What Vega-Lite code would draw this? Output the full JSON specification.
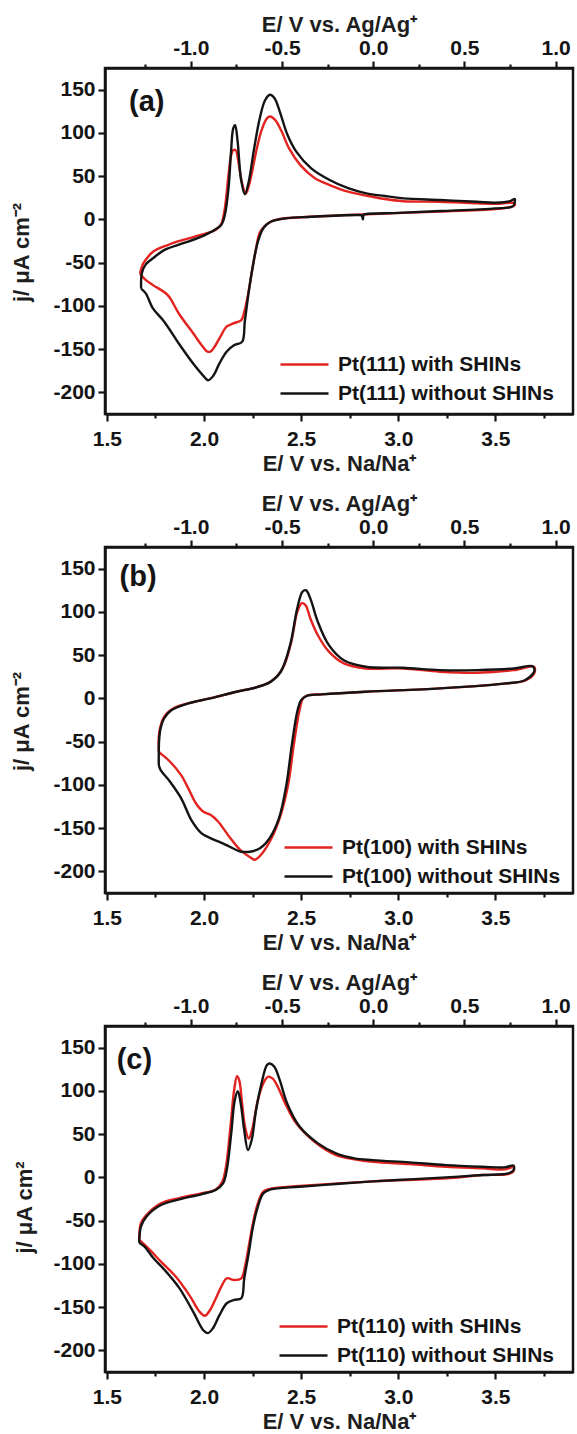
{
  "$schema": "https://vega.github.io/schema/vega-lite/v6.json",
  "background": "white",
  "padding": {"left": 8, "top": 11, "right": 0, "bottom": 0},
  "columns": 1,
  "align": "none",
  "spacing": 14,
  "datasets": {
    "ag": [{"Eag": -1.0}, {"Eag": 1.0}],
    "tagA": [{"label": "(a)", "E": 1.614, "j": 136}],
    "tagB": [{"label": "(b)", "E": 1.565, "j": 140}],
    "tagC": [{"label": "(c)", "E": 1.55, "j": 136}],
    "cvA": [
      {"series": "Pt(111) with SHINs", "E": 1.67, "j": -62.5},
      {"series": "Pt(111) with SHINs", "E": 1.685, "j": -52},
      {"series": "Pt(111) with SHINs", "E": 1.699, "j": -47},
      {"series": "Pt(111) with SHINs", "E": 1.737, "j": -37.4},
      {"series": "Pt(111) with SHINs", "E": 1.813, "j": -29.7},
      {"series": "Pt(111) with SHINs", "E": 1.889, "j": -24},
      {"series": "Pt(111) with SHINs", "E": 1.983, "j": -18},
      {"series": "Pt(111) with SHINs", "E": 2.059, "j": -12.3},
      {"series": "Pt(111) with SHINs", "E": 2.088, "j": -5.8},
      {"series": "Pt(111) with SHINs", "E": 2.107, "j": 12.7},
      {"series": "Pt(111) with SHINs", "E": 2.126, "j": 51},
      {"series": "Pt(111) with SHINs", "E": 2.14, "j": 74.5},
      {"series": "Pt(111) with SHINs", "E": 2.15, "j": 80},
      {"series": "Pt(111) with SHINs", "E": 2.163, "j": 80},
      {"series": "Pt(111) with SHINs", "E": 2.177, "j": 66.7},
      {"series": "Pt(111) with SHINs", "E": 2.196, "j": 41.7},
      {"series": "Pt(111) with SHINs", "E": 2.215, "j": 30},
      {"series": "Pt(111) with SHINs", "E": 2.234, "j": 41.7},
      {"series": "Pt(111) with SHINs", "E": 2.268, "j": 78},
      {"series": "Pt(111) with SHINs", "E": 2.296, "j": 103},
      {"series": "Pt(111) with SHINs", "E": 2.325, "j": 117},
      {"series": "Pt(111) with SHINs", "E": 2.34, "j": 119},
      {"series": "Pt(111) with SHINs", "E": 2.366, "j": 115},
      {"series": "Pt(111) with SHINs", "E": 2.4, "j": 101.5},
      {"series": "Pt(111) with SHINs", "E": 2.438, "j": 82},
      {"series": "Pt(111) with SHINs", "E": 2.495, "j": 63},
      {"series": "Pt(111) with SHINs", "E": 2.571, "j": 47.5},
      {"series": "Pt(111) with SHINs", "E": 2.647, "j": 39.7},
      {"series": "Pt(111) with SHINs", "E": 2.742, "j": 32},
      {"series": "Pt(111) with SHINs", "E": 2.836, "j": 27.4},
      {"series": "Pt(111) with SHINs", "E": 2.93, "j": 23.5},
      {"series": "Pt(111) with SHINs", "E": 3.026, "j": 21},
      {"series": "Pt(111) with SHINs", "E": 3.216, "j": 20.4},
      {"series": "Pt(111) with SHINs", "E": 3.405, "j": 18.5},
      {"series": "Pt(111) with SHINs", "E": 3.52, "j": 18},
      {"series": "Pt(111) with SHINs", "E": 3.576, "j": 19.3},
      {"series": "Pt(111) with SHINs", "E": 3.6, "j": 18.5},
      {"series": "Pt(111) with SHINs", "E": 3.597, "j": 15.8},
      {"series": "Pt(111) with SHINs", "E": 3.555, "j": 13.5},
      {"series": "Pt(111) with SHINs", "E": 3.5, "j": 12},
      {"series": "Pt(111) with SHINs", "E": 3.216, "j": 9},
      {"series": "Pt(111) with SHINs", "E": 2.836, "j": 6},
      {"series": "Pt(111) with SHINs", "E": 2.55, "j": 3},
      {"series": "Pt(111) with SHINs", "E": 2.39, "j": 0.4},
      {"series": "Pt(111) with SHINs", "E": 2.343, "j": -2.7},
      {"series": "Pt(111) with SHINs", "E": 2.29, "j": -14},
      {"series": "Pt(111) with SHINs", "E": 2.268, "j": -33.6},
      {"series": "Pt(111) with SHINs", "E": 2.249, "j": -57},
      {"series": "Pt(111) with SHINs", "E": 2.226, "j": -87.6},
      {"series": "Pt(111) with SHINs", "E": 2.207, "j": -107},
      {"series": "Pt(111) with SHINs", "E": 2.192, "j": -116.5},
      {"series": "Pt(111) with SHINs", "E": 2.154, "j": -120},
      {"series": "Pt(111) with SHINs", "E": 2.116, "j": -124},
      {"series": "Pt(111) with SHINs", "E": 2.088, "j": -134},
      {"series": "Pt(111) with SHINs", "E": 2.059, "j": -145.5},
      {"series": "Pt(111) with SHINs", "E": 2.036, "j": -152.4},
      {"series": "Pt(111) with SHINs", "E": 2.018, "j": -153},
      {"series": "Pt(111) with SHINs", "E": 1.993, "j": -147},
      {"series": "Pt(111) with SHINs", "E": 1.945, "j": -132},
      {"series": "Pt(111) with SHINs", "E": 1.87, "j": -108.8},
      {"series": "Pt(111) with SHINs", "E": 1.813, "j": -87.6},
      {"series": "Pt(111) with SHINs", "E": 1.737, "j": -76},
      {"series": "Pt(111) with SHINs", "E": 1.699, "j": -70},
      {"series": "Pt(111) with SHINs", "E": 1.67, "j": -62.5},
      {"series": "Pt(111) without SHINs", "E": 1.676, "j": -80},
      {"series": "Pt(111) without SHINs", "E": 1.68, "j": -62},
      {"series": "Pt(111) without SHINs", "E": 1.7, "j": -52},
      {"series": "Pt(111) without SHINs", "E": 1.737, "j": -45},
      {"series": "Pt(111) without SHINs", "E": 1.794, "j": -35.5},
      {"series": "Pt(111) without SHINs", "E": 1.889, "j": -27.8},
      {"series": "Pt(111) without SHINs", "E": 1.964, "j": -22},
      {"series": "Pt(111) without SHINs", "E": 2.04, "j": -14},
      {"series": "Pt(111) without SHINs", "E": 2.088, "j": -6.6},
      {"series": "Pt(111) without SHINs", "E": 2.107, "j": 5},
      {"series": "Pt(111) without SHINs", "E": 2.126, "j": 36},
      {"series": "Pt(111) without SHINs", "E": 2.139, "j": 78},
      {"series": "Pt(111) without SHINs", "E": 2.15, "j": 105},
      {"series": "Pt(111) without SHINs", "E": 2.16, "j": 109},
      {"series": "Pt(111) without SHINs", "E": 2.173, "j": 90},
      {"series": "Pt(111) without SHINs", "E": 2.19, "j": 47},
      {"series": "Pt(111) without SHINs", "E": 2.21, "j": 29},
      {"series": "Pt(111) without SHINs", "E": 2.23, "j": 43.6},
      {"series": "Pt(111) without SHINs", "E": 2.258, "j": 82},
      {"series": "Pt(111) without SHINs", "E": 2.287, "j": 117},
      {"series": "Pt(111) without SHINs", "E": 2.315, "j": 138},
      {"series": "Pt(111) without SHINs", "E": 2.34, "j": 144},
      {"series": "Pt(111) without SHINs", "E": 2.363, "j": 140},
      {"series": "Pt(111) without SHINs", "E": 2.39, "j": 124.6},
      {"series": "Pt(111) without SHINs", "E": 2.43, "j": 97.6},
      {"series": "Pt(111) without SHINs", "E": 2.476, "j": 78},
      {"series": "Pt(111) without SHINs", "E": 2.552, "j": 59},
      {"series": "Pt(111) without SHINs", "E": 2.647, "j": 45.5},
      {"series": "Pt(111) without SHINs", "E": 2.742, "j": 36},
      {"series": "Pt(111) without SHINs", "E": 2.836, "j": 30},
      {"series": "Pt(111) without SHINs", "E": 2.93, "j": 27},
      {"series": "Pt(111) without SHINs", "E": 3.026, "j": 24.3},
      {"series": "Pt(111) without SHINs", "E": 3.216, "j": 22.4},
      {"series": "Pt(111) without SHINs", "E": 3.405, "j": 20.4},
      {"series": "Pt(111) without SHINs", "E": 3.5, "j": 19.3},
      {"series": "Pt(111) without SHINs", "E": 3.576, "j": 21},
      {"series": "Pt(111) without SHINs", "E": 3.6, "j": 23.5},
      {"series": "Pt(111) without SHINs", "E": 3.6, "j": 20},
      {"series": "Pt(111) without SHINs", "E": 3.59, "j": 15},
      {"series": "Pt(111) without SHINs", "E": 3.5, "j": 12.7},
      {"series": "Pt(111) without SHINs", "E": 3.216, "j": 9.6},
      {"series": "Pt(111) without SHINs", "E": 3.0, "j": 7.5},
      {"series": "Pt(111) without SHINs", "E": 2.836, "j": 6.2},
      {"series": "Pt(111) without SHINs", "E": 2.822, "j": 5.5},
      {"series": "Pt(111) without SHINs", "E": 2.818, "j": 0},
      {"series": "Pt(111) without SHINs", "E": 2.812, "j": 4.5},
      {"series": "Pt(111) without SHINs", "E": 2.78, "j": 5},
      {"series": "Pt(111) without SHINs", "E": 2.55, "j": 3},
      {"series": "Pt(111) without SHINs", "E": 2.42, "j": 1.2},
      {"series": "Pt(111) without SHINs", "E": 2.343, "j": -2.7},
      {"series": "Pt(111) without SHINs", "E": 2.306, "j": -10},
      {"series": "Pt(111) without SHINs", "E": 2.277, "j": -26},
      {"series": "Pt(111) without SHINs", "E": 2.249, "j": -57},
      {"series": "Pt(111) without SHINs", "E": 2.23, "j": -84},
      {"series": "Pt(111) without SHINs", "E": 2.21, "j": -118},
      {"series": "Pt(111) without SHINs", "E": 2.196, "j": -141.6},
      {"series": "Pt(111) without SHINs", "E": 2.154, "j": -145.5},
      {"series": "Pt(111) without SHINs", "E": 2.116, "j": -153},
      {"series": "Pt(111) without SHINs", "E": 2.078, "j": -167},
      {"series": "Pt(111) without SHINs", "E": 2.05, "j": -180},
      {"series": "Pt(111) without SHINs", "E": 2.021, "j": -186},
      {"series": "Pt(111) without SHINs", "E": 1.993, "j": -180},
      {"series": "Pt(111) without SHINs", "E": 1.945, "j": -167},
      {"series": "Pt(111) without SHINs", "E": 1.87, "j": -143.5},
      {"series": "Pt(111) without SHINs", "E": 1.794, "j": -118},
      {"series": "Pt(111) without SHINs", "E": 1.737, "j": -103},
      {"series": "Pt(111) without SHINs", "E": 1.7, "j": -85.6},
      {"series": "Pt(111) without SHINs", "E": 1.676, "j": -80}
    ],
    "cvB": [
      {"series": "Pt(100) with SHINs", "E": 1.767, "j": -61.5},
      {"series": "Pt(100) with SHINs", "E": 1.77, "j": -38.5},
      {"series": "Pt(100) with SHINs", "E": 1.795, "j": -21},
      {"series": "Pt(100) with SHINs", "E": 1.843, "j": -11.5},
      {"series": "Pt(100) with SHINs", "E": 1.938, "j": -4.6},
      {"series": "Pt(100) with SHINs", "E": 2.052, "j": 1.2},
      {"series": "Pt(100) with SHINs", "E": 2.167, "j": 7.7},
      {"series": "Pt(100) with SHINs", "E": 2.28, "j": 13.5},
      {"series": "Pt(100) with SHINs", "E": 2.348, "j": 20},
      {"series": "Pt(100) with SHINs", "E": 2.405, "j": 34.6},
      {"series": "Pt(100) with SHINs", "E": 2.449, "j": 65},
      {"series": "Pt(100) with SHINs", "E": 2.48, "j": 100},
      {"series": "Pt(100) with SHINs", "E": 2.504, "j": 110},
      {"series": "Pt(100) with SHINs", "E": 2.523, "j": 107.7},
      {"series": "Pt(100) with SHINs", "E": 2.548, "j": 92},
      {"series": "Pt(100) with SHINs", "E": 2.586, "j": 73},
      {"series": "Pt(100) with SHINs", "E": 2.643, "j": 54},
      {"series": "Pt(100) with SHINs", "E": 2.72, "j": 40.4},
      {"series": "Pt(100) with SHINs", "E": 2.833, "j": 34.6},
      {"series": "Pt(100) with SHINs", "E": 3.024, "j": 34.6},
      {"series": "Pt(100) with SHINs", "E": 3.214, "j": 30.8},
      {"series": "Pt(100) with SHINs", "E": 3.405, "j": 29.6},
      {"series": "Pt(100) with SHINs", "E": 3.595, "j": 32.7},
      {"series": "Pt(100) with SHINs", "E": 3.7, "j": 36.5},
      {"series": "Pt(100) with SHINs", "E": 3.7, "j": 28.8},
      {"series": "Pt(100) with SHINs", "E": 3.652, "j": 20.4},
      {"series": "Pt(100) with SHINs", "E": 3.557, "j": 17.3},
      {"series": "Pt(100) with SHINs", "E": 3.214, "j": 11.5},
      {"series": "Pt(100) with SHINs", "E": 2.833, "j": 7.7},
      {"series": "Pt(100) with SHINs", "E": 2.605, "j": 4.6},
      {"series": "Pt(100) with SHINs", "E": 2.538, "j": 3.8},
      {"series": "Pt(100) with SHINs", "E": 2.51, "j": 0},
      {"series": "Pt(100) with SHINs", "E": 2.49, "j": -15.4},
      {"series": "Pt(100) with SHINs", "E": 2.462, "j": -54},
      {"series": "Pt(100) with SHINs", "E": 2.433, "j": -100},
      {"series": "Pt(100) with SHINs", "E": 2.395, "j": -134.6},
      {"series": "Pt(100) with SHINs", "E": 2.348, "j": -161.5},
      {"series": "Pt(100) with SHINs", "E": 2.3, "j": -179},
      {"series": "Pt(100) with SHINs", "E": 2.262, "j": -186.5},
      {"series": "Pt(100) with SHINs", "E": 2.243, "j": -184.6},
      {"series": "Pt(100) with SHINs", "E": 2.186, "j": -175},
      {"series": "Pt(100) with SHINs", "E": 2.129, "j": -159.6},
      {"series": "Pt(100) with SHINs", "E": 2.071, "j": -142},
      {"series": "Pt(100) with SHINs", "E": 2.033, "j": -134.6},
      {"series": "Pt(100) with SHINs", "E": 1.995, "j": -130.8},
      {"series": "Pt(100) with SHINs", "E": 1.957, "j": -121},
      {"series": "Pt(100) with SHINs", "E": 1.919, "j": -104},
      {"series": "Pt(100) with SHINs", "E": 1.881, "j": -88.5},
      {"series": "Pt(100) with SHINs", "E": 1.824, "j": -73},
      {"series": "Pt(100) with SHINs", "E": 1.776, "j": -63.5},
      {"series": "Pt(100) with SHINs", "E": 1.767, "j": -61.5},
      {"series": "Pt(100) without SHINs", "E": 1.767, "j": -77},
      {"series": "Pt(100) without SHINs", "E": 1.773, "j": -38.5},
      {"series": "Pt(100) without SHINs", "E": 1.795, "j": -23},
      {"series": "Pt(100) without SHINs", "E": 1.833, "j": -13.5},
      {"series": "Pt(100) without SHINs", "E": 1.919, "j": -5.8},
      {"series": "Pt(100) without SHINs", "E": 2.033, "j": 0},
      {"series": "Pt(100) without SHINs", "E": 2.167, "j": 7.7},
      {"series": "Pt(100) without SHINs", "E": 2.262, "j": 12.3},
      {"series": "Pt(100) without SHINs", "E": 2.338, "j": 18.5},
      {"series": "Pt(100) without SHINs", "E": 2.395, "j": 30.8},
      {"series": "Pt(100) without SHINs", "E": 2.443, "j": 61.5},
      {"series": "Pt(100) without SHINs", "E": 2.48, "j": 104},
      {"series": "Pt(100) without SHINs", "E": 2.506, "j": 123},
      {"series": "Pt(100) without SHINs", "E": 2.525, "j": 125},
      {"series": "Pt(100) without SHINs", "E": 2.548, "j": 115},
      {"series": "Pt(100) without SHINs", "E": 2.586, "j": 88.5},
      {"series": "Pt(100) without SHINs", "E": 2.643, "j": 61.5},
      {"series": "Pt(100) without SHINs", "E": 2.72, "j": 44},
      {"series": "Pt(100) without SHINs", "E": 2.833, "j": 36.5},
      {"series": "Pt(100) without SHINs", "E": 3.024, "j": 35.4},
      {"series": "Pt(100) without SHINs", "E": 3.214, "j": 32.7},
      {"series": "Pt(100) without SHINs", "E": 3.405, "j": 32.7},
      {"series": "Pt(100) without SHINs", "E": 3.595, "j": 34.6},
      {"series": "Pt(100) without SHINs", "E": 3.69, "j": 37.3},
      {"series": "Pt(100) without SHINs", "E": 3.7, "j": 34.6},
      {"series": "Pt(100) without SHINs", "E": 3.7, "j": 30.8},
      {"series": "Pt(100) without SHINs", "E": 3.652, "j": 21},
      {"series": "Pt(100) without SHINs", "E": 3.557, "j": 17.3},
      {"series": "Pt(100) without SHINs", "E": 3.214, "j": 11.5},
      {"series": "Pt(100) without SHINs", "E": 2.833, "j": 7.7},
      {"series": "Pt(100) without SHINs", "E": 2.605, "j": 4.6},
      {"series": "Pt(100) without SHINs", "E": 2.529, "j": 3},
      {"series": "Pt(100) without SHINs", "E": 2.5, "j": -2},
      {"series": "Pt(100) without SHINs", "E": 2.48, "j": -15.4},
      {"series": "Pt(100) without SHINs", "E": 2.452, "j": -54},
      {"series": "Pt(100) without SHINs", "E": 2.424, "j": -100},
      {"series": "Pt(100) without SHINs", "E": 2.386, "j": -138.5},
      {"series": "Pt(100) without SHINs", "E": 2.338, "j": -161.5},
      {"series": "Pt(100) without SHINs", "E": 2.29, "j": -173},
      {"series": "Pt(100) without SHINs", "E": 2.243, "j": -177},
      {"series": "Pt(100) without SHINs", "E": 2.186, "j": -177},
      {"series": "Pt(100) without SHINs", "E": 2.11, "j": -169},
      {"series": "Pt(100) without SHINs", "E": 2.033, "j": -161.5},
      {"series": "Pt(100) without SHINs", "E": 1.986, "j": -155.8},
      {"series": "Pt(100) without SHINs", "E": 1.938, "j": -142},
      {"series": "Pt(100) without SHINs", "E": 1.881, "j": -115},
      {"series": "Pt(100) without SHINs", "E": 1.824, "j": -96},
      {"series": "Pt(100) without SHINs", "E": 1.776, "j": -82.7},
      {"series": "Pt(100) without SHINs", "E": 1.767, "j": -77}
    ],
    "cvC": [
      {"series": "Pt(110) with SHINs", "E": 1.666, "j": -72.4},
      {"series": "Pt(110) with SHINs", "E": 1.675, "j": -53},
      {"series": "Pt(110) with SHINs", "E": 1.703, "j": -43.5},
      {"series": "Pt(110) with SHINs", "E": 1.778, "j": -30},
      {"series": "Pt(110) with SHINs", "E": 1.873, "j": -23.9},
      {"series": "Pt(110) with SHINs", "E": 1.985, "j": -18.5},
      {"series": "Pt(110) with SHINs", "E": 2.06, "j": -13.9},
      {"series": "Pt(110) with SHINs", "E": 2.094, "j": -5},
      {"series": "Pt(110) with SHINs", "E": 2.113, "j": 12.3},
      {"series": "Pt(110) with SHINs", "E": 2.136, "j": 58.5},
      {"series": "Pt(110) with SHINs", "E": 2.155, "j": 101},
      {"series": "Pt(110) with SHINs", "E": 2.17, "j": 117},
      {"series": "Pt(110) with SHINs", "E": 2.181, "j": 112.4},
      {"series": "Pt(110) with SHINs", "E": 2.196, "j": 85.5},
      {"series": "Pt(110) with SHINs", "E": 2.211, "j": 58.5},
      {"series": "Pt(110) with SHINs", "E": 2.23, "j": 45},
      {"series": "Pt(110) with SHINs", "E": 2.249, "j": 56.6},
      {"series": "Pt(110) with SHINs", "E": 2.277, "j": 89.3},
      {"series": "Pt(110) with SHINs", "E": 2.305, "j": 108.6},
      {"series": "Pt(110) with SHINs", "E": 2.328, "j": 116.3},
      {"series": "Pt(110) with SHINs", "E": 2.352, "j": 114.4},
      {"series": "Pt(110) with SHINs", "E": 2.38, "j": 104.7},
      {"series": "Pt(110) with SHINs", "E": 2.418, "j": 85.5},
      {"series": "Pt(110) with SHINs", "E": 2.475, "j": 62.4},
      {"series": "Pt(110) with SHINs", "E": 2.569, "j": 41.2},
      {"series": "Pt(110) with SHINs", "E": 2.68, "j": 25.8},
      {"series": "Pt(110) with SHINs", "E": 2.775, "j": 21},
      {"series": "Pt(110) with SHINs", "E": 2.87, "j": 18},
      {"series": "Pt(110) with SHINs", "E": 3.058, "j": 15.4},
      {"series": "Pt(110) with SHINs", "E": 3.246, "j": 12.3},
      {"series": "Pt(110) with SHINs", "E": 3.434, "j": 10.4},
      {"series": "Pt(110) with SHINs", "E": 3.547, "j": 9.2},
      {"series": "Pt(110) with SHINs", "E": 3.594, "j": 11.5},
      {"series": "Pt(110) with SHINs", "E": 3.594, "j": 7.3},
      {"series": "Pt(110) with SHINs", "E": 3.566, "j": 3.8},
      {"series": "Pt(110) with SHINs", "E": 3.434, "j": 2.7},
      {"series": "Pt(110) with SHINs", "E": 3.246, "j": -1.2},
      {"series": "Pt(110) with SHINs", "E": 2.87, "j": -4.6},
      {"series": "Pt(110) with SHINs", "E": 2.493, "j": -10},
      {"series": "Pt(110) with SHINs", "E": 2.343, "j": -13},
      {"series": "Pt(110) with SHINs", "E": 2.305, "j": -16.5},
      {"series": "Pt(110) with SHINs", "E": 2.277, "j": -30},
      {"series": "Pt(110) with SHINs", "E": 2.252, "j": -53},
      {"series": "Pt(110) with SHINs", "E": 2.23, "j": -80},
      {"series": "Pt(110) with SHINs", "E": 2.211, "j": -103},
      {"series": "Pt(110) with SHINs", "E": 2.192, "j": -116.7},
      {"series": "Pt(110) with SHINs", "E": 2.155, "j": -118.6},
      {"series": "Pt(110) with SHINs", "E": 2.117, "j": -116.7},
      {"series": "Pt(110) with SHINs", "E": 2.089, "j": -126.3},
      {"series": "Pt(110) with SHINs", "E": 2.061, "j": -139.8},
      {"series": "Pt(110) with SHINs", "E": 2.032, "j": -153},
      {"series": "Pt(110) with SHINs", "E": 2.004, "j": -160},
      {"series": "Pt(110) with SHINs", "E": 1.976, "j": -155},
      {"series": "Pt(110) with SHINs", "E": 1.929, "j": -137.8},
      {"series": "Pt(110) with SHINs", "E": 1.854, "j": -114.7},
      {"series": "Pt(110) with SHINs", "E": 1.778, "j": -97.4},
      {"series": "Pt(110) with SHINs", "E": 1.722, "j": -84},
      {"series": "Pt(110) with SHINs", "E": 1.685, "j": -76},
      {"series": "Pt(110) with SHINs", "E": 1.666, "j": -72.4},
      {"series": "Pt(110) without SHINs", "E": 1.666, "j": -75.5},
      {"series": "Pt(110) without SHINs", "E": 1.675, "j": -57},
      {"series": "Pt(110) without SHINs", "E": 1.703, "j": -45.4},
      {"series": "Pt(110) without SHINs", "E": 1.778, "j": -32},
      {"series": "Pt(110) without SHINs", "E": 1.873, "j": -25.4},
      {"series": "Pt(110) without SHINs", "E": 1.985, "j": -19.6},
      {"series": "Pt(110) without SHINs", "E": 2.06, "j": -14.6},
      {"series": "Pt(110) without SHINs", "E": 2.098, "j": -7},
      {"series": "Pt(110) without SHINs", "E": 2.117, "j": 8.5},
      {"series": "Pt(110) without SHINs", "E": 2.14, "j": 50.8},
      {"series": "Pt(110) without SHINs", "E": 2.158, "j": 89},
      {"series": "Pt(110) without SHINs", "E": 2.174, "j": 99.7},
      {"series": "Pt(110) without SHINs", "E": 2.189, "j": 85.5},
      {"series": "Pt(110) without SHINs", "E": 2.207, "j": 54.7},
      {"series": "Pt(110) without SHINs", "E": 2.226, "j": 31.6},
      {"series": "Pt(110) without SHINs", "E": 2.245, "j": 43},
      {"series": "Pt(110) without SHINs", "E": 2.268, "j": 77.8},
      {"series": "Pt(110) without SHINs", "E": 2.296, "j": 108.6},
      {"series": "Pt(110) without SHINs", "E": 2.324, "j": 129.8},
      {"series": "Pt(110) without SHINs", "E": 2.339, "j": 131.7},
      {"series": "Pt(110) without SHINs", "E": 2.362, "j": 127.8},
      {"series": "Pt(110) without SHINs", "E": 2.39, "j": 112.4},
      {"series": "Pt(110) without SHINs", "E": 2.428, "j": 85.5},
      {"series": "Pt(110) without SHINs", "E": 2.493, "j": 58.5},
      {"series": "Pt(110) without SHINs", "E": 2.587, "j": 39.3},
      {"series": "Pt(110) without SHINs", "E": 2.68, "j": 27.7},
      {"series": "Pt(110) without SHINs", "E": 2.775, "j": 22},
      {"series": "Pt(110) without SHINs", "E": 2.87, "j": 20},
      {"series": "Pt(110) without SHINs", "E": 3.058, "j": 17.3},
      {"series": "Pt(110) without SHINs", "E": 3.246, "j": 14.2},
      {"series": "Pt(110) without SHINs", "E": 3.434, "j": 12.3},
      {"series": "Pt(110) without SHINs", "E": 3.547, "j": 11.5},
      {"series": "Pt(110) without SHINs", "E": 3.594, "j": 13.5},
      {"series": "Pt(110) without SHINs", "E": 3.594, "j": 8.5},
      {"series": "Pt(110) without SHINs", "E": 3.566, "j": 4.6},
      {"series": "Pt(110) without SHINs", "E": 3.434, "j": 2.7},
      {"series": "Pt(110) without SHINs", "E": 3.246, "j": 0},
      {"series": "Pt(110) without SHINs", "E": 3.058, "j": -2.3},
      {"series": "Pt(110) without SHINs", "E": 2.87, "j": -4.6},
      {"series": "Pt(110) without SHINs", "E": 2.68, "j": -7.7},
      {"series": "Pt(110) without SHINs", "E": 2.493, "j": -10.8},
      {"series": "Pt(110) without SHINs", "E": 2.343, "j": -13.9},
      {"series": "Pt(110) without SHINs", "E": 2.305, "j": -18.5},
      {"series": "Pt(110) without SHINs", "E": 2.277, "j": -34},
      {"series": "Pt(110) without SHINs", "E": 2.252, "j": -57},
      {"series": "Pt(110) without SHINs", "E": 2.23, "j": -87.8},
      {"series": "Pt(110) without SHINs", "E": 2.207, "j": -116.7},
      {"series": "Pt(110) without SHINs", "E": 2.192, "j": -139.8},
      {"series": "Pt(110) without SHINs", "E": 2.155, "j": -141.7},
      {"series": "Pt(110) without SHINs", "E": 2.117, "j": -145.5},
      {"series": "Pt(110) without SHINs", "E": 2.08, "j": -159},
      {"series": "Pt(110) without SHINs", "E": 2.046, "j": -174.4},
      {"series": "Pt(110) without SHINs", "E": 2.02, "j": -180},
      {"series": "Pt(110) without SHINs", "E": 1.995, "j": -176.4},
      {"series": "Pt(110) without SHINs", "E": 1.948, "j": -157},
      {"series": "Pt(110) without SHINs", "E": 1.873, "j": -128},
      {"series": "Pt(110) without SHINs", "E": 1.797, "j": -107},
      {"series": "Pt(110) without SHINs", "E": 1.74, "j": -93.6},
      {"series": "Pt(110) without SHINs", "E": 1.694, "j": -80},
      {"series": "Pt(110) without SHINs", "E": 1.666, "j": -75.5}
    ]
  },
  "concat": [
    {
      "width": 468, "height": 346,
      "layer": [
        {
          "layer": [
            {
              "data": {"name": "cvA"},
              "mark": {"type": "line", "strokeWidth": 2.4, "clip": true, "interpolate": "catmull-rom"},
              "encoding": {
                "x": {"field": "E", "type": "quantitative", "scale": {"domain": [1.49, 3.9], "nice": false, "zero": false},
                  "axis": {"orient": "bottom", "title": "E/ V vs. Na/Na⁺", "labelPadding": 7, "titlePadding": 4, "values": [1.5, 1.75, 2, 2.25, 2.5, 2.75, 3, 3.25, 3.5, 3.75],
                    "labelExpr": "abs(round(datum.value*4)) % 2 == 0 ? format(datum.value, '.1f') : ''",
                    "tickSize": {"condition": {"test": "abs(round(datum.value*4)) % 2 == 0", "value": 7}, "value": 4}}},
                "y": {"field": "j", "type": "quantitative", "scale": {"domain": [-225, 175], "nice": false, "zero": false},
                  "axis": {"title": "j/ μA cm⁻²", "titleX": -72, "titleY": 184, "values": [-200, -175, -150, -125, -100, -75, -50, -25, 0, 25, 50, 75, 100, 125, 150],
                    "labelExpr": "datum.value % 50 == 0 ? (datum.value < 0 ? '-' : '') + abs(datum.value) : ''",
                    "tickSize": {"condition": {"test": "datum.value % 50 == 0", "value": 7}, "value": 4}}},
                "color": {"field": "series", "type": "nominal",
                  "scale": {"domain": ["Pt(111) with SHINs", "Pt(111) without SHINs"], "range": ["#e3231f", "#141414"]},
                  "legend": {"orient": "none", "legendX": 188, "legendY": 285, "title": null}},
                "order": {"value": null}
              }
            },
            {
              "data": {"name": "tagA"},
              "mark": {"type": "text", "align": "left", "baseline": "middle", "font": "Liberation Sans", "fontSize": 29, "fontWeight": "bold", "color": "#141414"},
              "encoding": {
                "x": {"field": "E", "type": "quantitative"},
                "y": {"field": "j", "type": "quantitative"},
                "text": {"field": "label"}
              }
            }
          ]
        },
        {
          "data": {"name": "ag"},
          "mark": {"type": "point", "opacity": 0},
          "encoding": {
            "x": {"field": "Eag", "type": "quantitative", "scale": {"domain": [-1.47, 1.095], "nice": false, "zero": false},
              "axis": {"orient": "top", "title": "E/ V vs. Ag/Ag⁺", "titlePadding": 1, "values": [-1.25, -1, -0.75, -0.5, -0.25, 0, 0.25, 0.5, 0.75, 1],
                "labelExpr": "abs(round(datum.value*4)) % 2 == 0 ? (datum.value < 0 ? '-' : '') + format(abs(datum.value), '.1f') : ''",
                "tickSize": {"condition": {"test": "abs(round(datum.value*4)) % 2 == 0", "value": 7}, "value": 4}}}
          }
        }
      ],
      "resolve": {"scale": {"x": "independent"}, "axis": {"x": "independent"}}
    },
    {
      "width": 468, "height": 346,
      "layer": [
        {
          "layer": [
            {
              "data": {"name": "cvB"},
              "mark": {"type": "line", "strokeWidth": 2.4, "clip": true, "interpolate": "catmull-rom"},
              "encoding": {
                "x": {"field": "E", "type": "quantitative", "scale": {"domain": [1.49, 3.9], "nice": false, "zero": false},
                  "axis": {"orient": "bottom", "title": "E/ V vs. Na/Na⁺", "labelPadding": 7, "titlePadding": 4, "values": [1.5, 1.75, 2, 2.25, 2.5, 2.75, 3, 3.25, 3.5, 3.75],
                    "labelExpr": "abs(round(datum.value*4)) % 2 == 0 ? format(datum.value, '.1f') : ''",
                    "tickSize": {"condition": {"test": "abs(round(datum.value*4)) % 2 == 0", "value": 7}, "value": 4}}},
                "y": {"field": "j", "type": "quantitative", "scale": {"domain": [-225, 175], "nice": false, "zero": false},
                  "axis": {"title": "j/ μA cm⁻²", "titleX": -72, "titleY": 174, "values": [-200, -175, -150, -125, -100, -75, -50, -25, 0, 25, 50, 75, 100, 125, 150],
                    "labelExpr": "datum.value % 50 == 0 ? (datum.value < 0 ? '-' : '') + abs(datum.value) : ''",
                    "tickSize": {"condition": {"test": "datum.value % 50 == 0", "value": 7}, "value": 4}}},
                "color": {"field": "series", "type": "nominal",
                  "scale": {"domain": ["Pt(100) with SHINs", "Pt(100) without SHINs"], "range": ["#e3231f", "#141414"]},
                  "legend": {"orient": "none", "legendX": 192, "legendY": 289, "title": null}},
                "order": {"value": null}
              }
            },
            {
              "data": {"name": "tagB"},
              "mark": {"type": "text", "align": "left", "baseline": "middle", "font": "Liberation Sans", "fontSize": 29, "fontWeight": "bold", "color": "#141414"},
              "encoding": {
                "x": {"field": "E", "type": "quantitative"},
                "y": {"field": "j", "type": "quantitative"},
                "text": {"field": "label"}
              }
            }
          ]
        },
        {
          "data": {"name": "ag"},
          "mark": {"type": "point", "opacity": 0},
          "encoding": {
            "x": {"field": "Eag", "type": "quantitative", "scale": {"domain": [-1.47, 1.095], "nice": false, "zero": false},
              "axis": {"orient": "top", "title": "E/ V vs. Ag/Ag⁺", "titlePadding": 1, "values": [-1.25, -1, -0.75, -0.5, -0.25, 0, 0.25, 0.5, 0.75, 1],
                "labelExpr": "abs(round(datum.value*4)) % 2 == 0 ? (datum.value < 0 ? '-' : '') + format(abs(datum.value), '.1f') : ''",
                "tickSize": {"condition": {"test": "abs(round(datum.value*4)) % 2 == 0", "value": 7}, "value": 4}}}
          }
        }
      ],
      "resolve": {"scale": {"x": "independent"}, "axis": {"x": "independent"}}
    },
    {
      "width": 468, "height": 346,
      "layer": [
        {
          "layer": [
            {
              "data": {"name": "cvC"},
              "mark": {"type": "line", "strokeWidth": 2.4, "clip": true, "interpolate": "catmull-rom"},
              "encoding": {
                "x": {"field": "E", "type": "quantitative", "scale": {"domain": [1.49, 3.9], "nice": false, "zero": false},
                  "axis": {"orient": "bottom", "title": "E/ V vs. Na/Na⁺", "labelPadding": 7, "titlePadding": 4, "values": [1.5, 1.75, 2, 2.25, 2.5, 2.75, 3, 3.25, 3.5, 3.75],
                    "labelExpr": "abs(round(datum.value*4)) % 2 == 0 ? format(datum.value, '.1f') : ''",
                    "tickSize": {"condition": {"test": "abs(round(datum.value*4)) % 2 == 0", "value": 7}, "value": 4}}},
                "y": {"field": "j", "type": "quantitative", "scale": {"domain": [-225, 175], "nice": false, "zero": false},
                  "axis": {"title": "j/ μA cm²", "titleX": -69, "titleY": 181, "values": [-200, -175, -150, -125, -100, -75, -50, -25, 0, 25, 50, 75, 100, 125, 150],
                    "labelExpr": "datum.value % 50 == 0 ? (datum.value < 0 ? '-' : '') + abs(datum.value) : ''",
                    "tickSize": {"condition": {"test": "datum.value % 50 == 0", "value": 7}, "value": 4}}},
                "color": {"field": "series", "type": "nominal",
                  "scale": {"domain": ["Pt(110) with SHINs", "Pt(110) without SHINs"], "range": ["#e3231f", "#141414"]},
                  "legend": {"orient": "none", "legendX": 187, "legendY": 289, "title": null}},
                "order": {"value": null}
              }
            },
            {
              "data": {"name": "tagC"},
              "mark": {"type": "text", "align": "left", "baseline": "middle", "font": "Liberation Sans", "fontSize": 29, "fontWeight": "bold", "color": "#141414"},
              "encoding": {
                "x": {"field": "E", "type": "quantitative"},
                "y": {"field": "j", "type": "quantitative"},
                "text": {"field": "label"}
              }
            }
          ]
        },
        {
          "data": {"name": "ag"},
          "mark": {"type": "point", "opacity": 0},
          "encoding": {
            "x": {"field": "Eag", "type": "quantitative", "scale": {"domain": [-1.47, 1.095], "nice": false, "zero": false},
              "axis": {"orient": "top", "title": "E/ V vs. Ag/Ag⁺", "titlePadding": 1, "values": [-1.25, -1, -0.75, -0.5, -0.25, 0, 0.25, 0.5, 0.75, 1],
                "labelExpr": "abs(round(datum.value*4)) % 2 == 0 ? (datum.value < 0 ? '-' : '') + format(abs(datum.value), '.1f') : ''",
                "tickSize": {"condition": {"test": "abs(round(datum.value*4)) % 2 == 0", "value": 7}, "value": 4}}}
          }
        }
      ],
      "resolve": {"scale": {"x": "independent"}, "axis": {"x": "independent"}}
    }
  ],
  "resolve": {"scale": {"color": "independent"}, "legend": {"color": "independent"}},
  "config": {
    "view": {"stroke": "#141414", "strokeWidth": 2.5},
    "axis": {
      "grid": false,
      "domainColor": "#141414", "domainWidth": 2.5,
      "tickColor": "#141414", "tickWidth": 2.2,
      "labelFont": "Liberation Sans", "labelFontSize": 21, "labelFontWeight": "bold", "labelColor": "#141414",
      "labelPadding": 3, "labelOverlap": false, "labelBound": false, "labelFlush": false,
      "titleFont": "Liberation Sans", "titleFontSize": 22, "titleFontWeight": "bold", "titleColor": "#1e1e1e",
      "titlePadding": 6
    },
    "legend": {
      "symbolType": "M-2.4,0H2.4", "symbolSize": 400, "symbolStrokeWidth": 2.5,
      "labelFont": "Liberation Sans", "labelFontSize": 21, "labelFontWeight": "bold", "labelColor": "#141414",
      "labelOffset": 22, "rowPadding": 7, "padding": 0, "labelLimit": 400
    }
  }
}
